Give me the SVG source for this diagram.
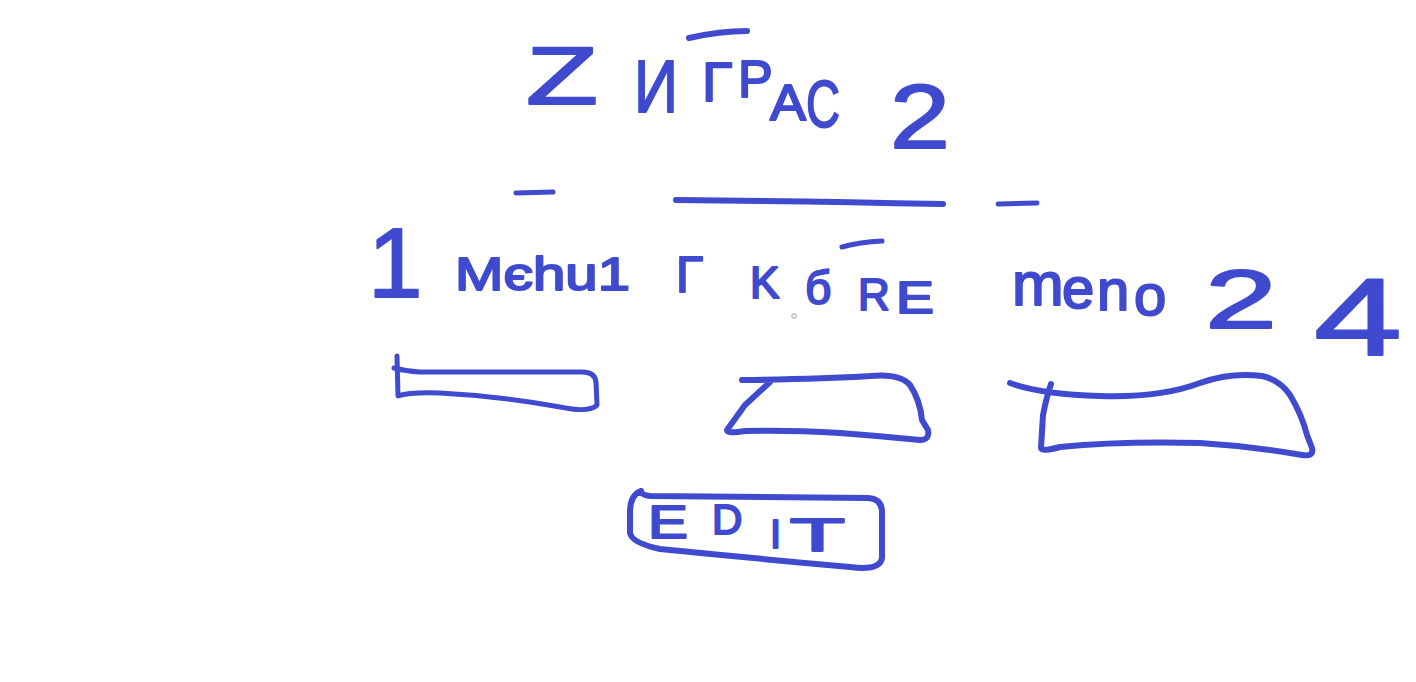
<svg xmlns="http://www.w3.org/2000/svg" width="1416" height="682" viewBox="0 0 1416 682">
<style>
.ink{fill:none;stroke:#3f4acf;stroke-linecap:round;stroke-linejoin:round}
.hw{font-family:"Liberation Sans","DejaVu Sans",sans-serif;fill:#3f4acf;stroke:#3f4acf;stroke-width:2;stroke-linejoin:round}
</style>
<rect width="1416" height="682" fill="#ffffff"/>
<g id="title">
<text class="hw" font-size="82" x="526" y="104" textLength="72" lengthAdjust="spacingAndGlyphs">Z</text>
<text class="hw" font-size="74" x="634" y="112" textLength="44" lengthAdjust="spacingAndGlyphs">И</text>
<text class="hw" font-size="56" x="702" y="101">Г</text>
<text class="hw" font-size="52" x="738" y="97">Р</text>
<text class="hw" font-size="50" x="770" y="120" textLength="36" lengthAdjust="spacingAndGlyphs">А</text>
<text class="hw" font-size="66" x="806" y="127" textLength="34" lengthAdjust="spacingAndGlyphs">С</text>
<text class="hw" font-size="90" x="890" y="148" textLength="60" lengthAdjust="spacingAndGlyphs">2</text>
<path class="ink" stroke-width="6" d="M689,38 Q720,31 747,31"/>
</g>
<g id="dividers">
<path class="ink" stroke-width="5" d="M516,193 L553,192"/>
<path class="ink" stroke-width="6" d="M676,200 Q800,201 943,204"/>
<path class="ink" stroke-width="5" d="M998,204 L1037,203"/>
</g>
<g id="row-labels">
<text class="hw" font-size="98" x="368" y="297">1</text>
<text class="hw" font-size="46" x="455" y="290" textLength="175" lengthAdjust="spacingAndGlyphs">Mєhu1</text>
<text class="hw" font-size="50" x="676" y="292">Г</text>
<text class="hw" font-size="44" x="750" y="298">K</text>
<text class="hw" font-size="46" x="805" y="304">б</text>
<text class="hw" font-size="44" x="858" y="310">R</text>
<text class="hw" font-size="44" x="896" y="313" textLength="38" lengthAdjust="spacingAndGlyphs">E</text>
<path class="ink" stroke-width="5" d="M842,247 Q860,242 882,241"/>
<text class="hw" font-size="62" x="1012" y="305">m</text>
<text class="hw" font-size="58" x="1062" y="308">e</text>
<text class="hw" font-size="58" x="1097" y="310">n</text>
<text class="hw" font-size="58" x="1134" y="315">o</text>
<text class="hw" font-size="84" x="1205" y="328" textLength="72" lengthAdjust="spacingAndGlyphs">2</text>
<text class="hw" font-size="110" x="1314" y="355" textLength="88" lengthAdjust="spacingAndGlyphs">4</text>
<circle cx="794" cy="316" r="2.2" fill="none" stroke="#9a9a9a" stroke-width="1"/>
</g>
<g id="slider-left">
<path class="ink" stroke-width="5" d="M397,356 L398,396 Q410,392 440,393 Q500,396 560,407 Q590,413 597,405 L596,382 Q595,372 582,372 L420,372 Q405,371 394,368"/>
</g>
<g id="slider-middle">
<path class="ink" stroke-width="6" d="M742,380 Q820,379 870,376 Q900,373 910,385 Q920,400 922,420 L928,430 Q930,440 920,440 Q880,436 840,433 Q790,430 745,431 Q727,434 727,430 L745,405 L770,382"/>
</g>
<g id="slider-right">
<path class="ink" stroke-width="6" d="M1010,383 Q1040,394 1100,396 Q1160,398 1200,383 Q1230,372 1262,376 Q1280,380 1290,395 Q1302,415 1307,435 L1312,448 Q1314,457 1302,455 Q1250,446 1200,443 Q1120,441 1060,447 Q1042,452 1041,448 L1043,415 Q1047,395 1051,384"/>
</g>
<g id="edit-button">
<path class="ink" stroke-width="6" d="M641,491 Q630,495 630,512 L630,533 Q632,543 660,549 Q750,558 850,567 Q880,571 882,558 L882,512 Q882,499 868,498 L650,496 Q641,495 641,491"/>
<text class="hw" font-size="46" x="648" y="538" textLength="40" lengthAdjust="spacingAndGlyphs">E</text>
<text class="hw" font-size="42" x="712" y="534">D</text>
<text class="hw" font-size="40" x="770" y="548">I</text>
<text class="hw" font-size="46" x="790" y="551" textLength="55" lengthAdjust="spacingAndGlyphs">T</text>
</g>
</svg>
